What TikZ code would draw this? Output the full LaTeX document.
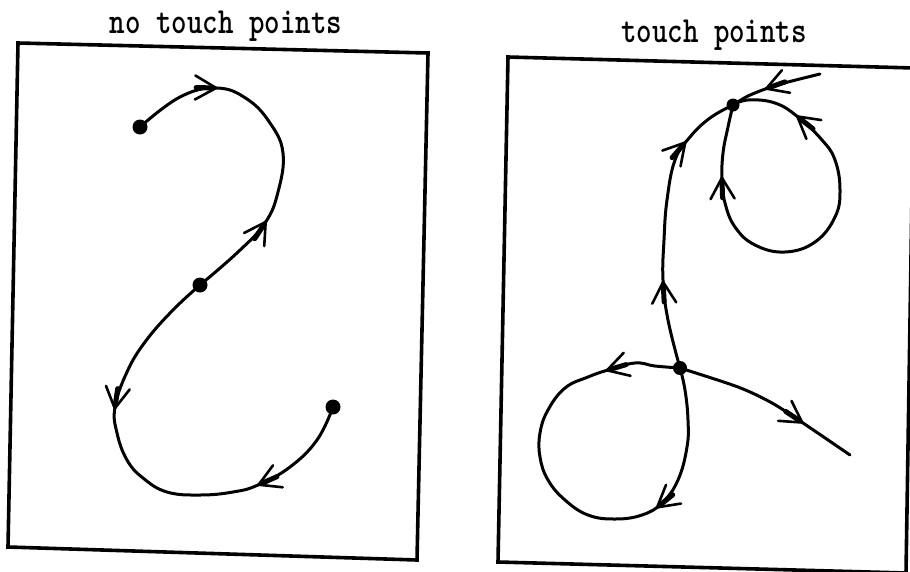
\documentclass[tikz,border=0pt]{standalone}
\usepackage{graphicx}
\usetikzlibrary{decorations.markings}
\newcommand\barbhead[1]{%
  \begin{scope}[xscale=#1]
    \draw[line width=5pt] (-20pt,0pt) -- (-5pt,0pt);
    \draw[line width=2.6pt, line cap=round, line join=round] (-21pt,12pt) -- (0pt,0pt) -- (-21pt,-12pt);
  \end{scope}}
\tikzset{
  curve/.style={line width=3pt, line cap=round, line join=round},
  frame/.style={line width=3.6pt, line join=miter},
  dot/.style={circle, fill, inner sep=0pt, minimum size=#1},
  dot/.default=15pt,
  fwd/.style={postaction={decorate, decoration={markings, mark=at position #1 with {\barbhead{1}}}}},
  bwd/.style={postaction={decorate, decoration={markings, mark=at position #1 with {\barbhead{-1}}}}},
  title/.style={anchor=base, inner sep=0pt, font=\fontsize{29.5}{30}\selectfont\ttfamily\bfseries},
}
\begin{document}
\begin{tikzpicture}[x=1pt,y=-1pt]
\useasboundingbox (0,0) rectangle (910,571);
\clip (0,0) rectangle (910,571);
% titles
\node[title] (t1) at (226,33) {\scalebox{1}[1.25]{no touch points}};
\node[title] (t2) at (714,42) {\scalebox{1}[1.25]{touch points}};
% frames
\draw[frame] (18,43) -- (428,53) -- (417,560) -- (8,547) -- cycle;
\draw[frame] (508,57) -- (914,68) -- (906,573) -- (498,562) -- cycle;
% left panel
\node[dot] (A) at (140,127) {};
\node[dot] (B) at (200,285) {};
\node[dot] (C) at (333,407) {};
\draw[curve, fwd=0.25, bwd=0.74] plot[smooth, tension=0.7] coordinates {(A.center) (180,97) (217,88) (247,99) (270,123) (283,153) (278,192) (265,223) (238,252) (B.center)};
\draw[curve, fwd=0.33, bwd=0.76] plot[smooth, tension=0.7] coordinates {(B.center) (172,311) (145,342) (127,372) (115,407) (117,433) (127,460) (143,478) (167,492) (200,495) (233,492) (258,485) (290,467) (317,440) (C.center)};
% right panel
\node[dot=13pt] (P) at (733,105) {};
\node[dot=14pt] (Q) at (680,368) {};
\coordinate (T) at (820,74);
\coordinate (E) at (850,455);
\draw[curve, fwd=0.6] plot[smooth] coordinates {(T) (788,82) (768,88) (748,96) (P.center)};
\draw[curve, fwd=0.3, fwd=0.79] plot[smooth, tension=0.7] coordinates {(Q.center) (668,320) (663,280) (664,240) (667,200) (675,160) (690,137) (710,118) (P.center)};
\draw[curve, bwd=0.17, fwd=0.84] plot[smooth, tension=0.7] coordinates {(P.center) (728,127) (723,153) (722,180) (725,203) (735,227) (755,245) (785,252) (815,242) (835,217) (840,190) (835,160) (822,140) (798,117) (775,103) (748,100) (P.center)};
\draw[curve, fwd=0.15, bwd=0.70] plot[smooth, tension=0.7] coordinates {(Q.center) (655,366) (635,363) (608,370) (588,377) (565,388) (548,410) (540,433) (540,457) (548,480) (565,500) (588,515) (615,519) (642,515) (662,503) (678,480) (687,447) (688,420) (685,390) (Q.center)};
\draw[curve, fwd=0.70] plot[smooth] coordinates {(Q.center) (738,387) (772,403) (803,423) (E)};
\end{tikzpicture}
\end{document}
